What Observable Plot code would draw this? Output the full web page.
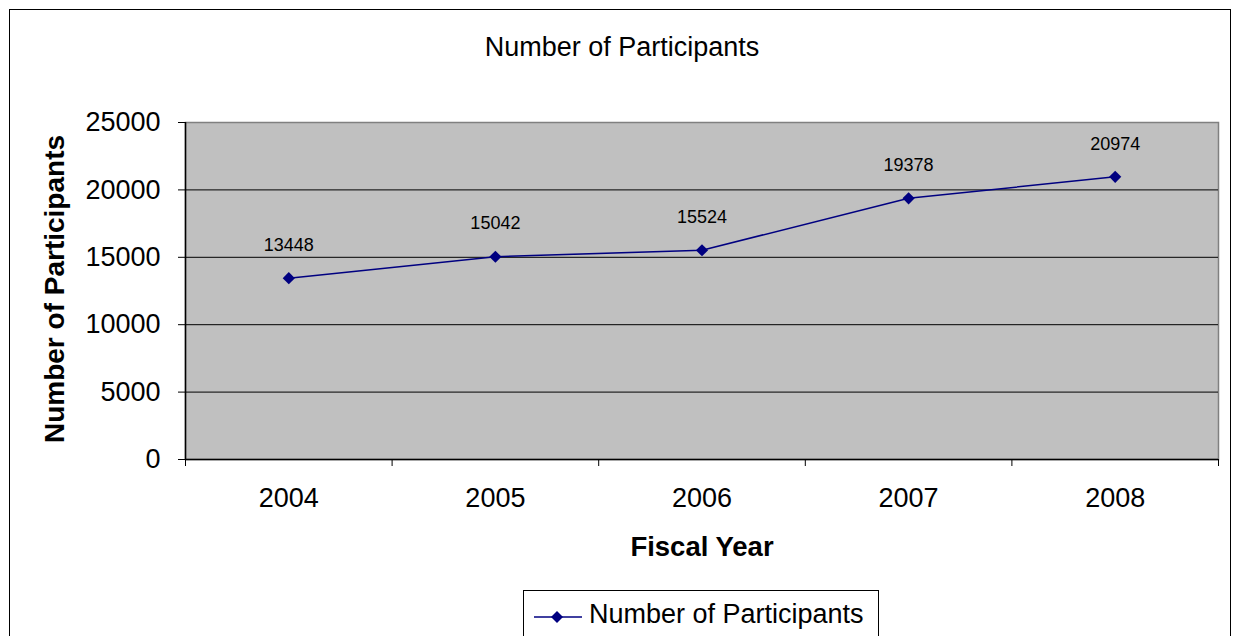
<!DOCTYPE html>
<html>
<head>
<meta charset="utf-8">
<script src="https://cdn.jsdelivr.net/npm/d3@7"></script>
<script src="https://cdn.jsdelivr.net/npm/@observablehq/plot@0.6"></script>
<style>
  html, body { margin: 0; padding: 0; background: #fff; }
  #wrap { position: relative; width: 1239px; height: 636px; overflow: hidden; font-family: "Liberation Sans", Arial, sans-serif; }
  #border { position: absolute; left: 9px; top: 9px; width: 1222px; height: 700px; border: 1.5px solid #000; box-sizing: border-box; }
  #title { position: absolute; left: 622px; top: 47px; transform: translate(-50%, -50%); font-size: 27px; color: #000; white-space: nowrap; }
  #ytitle { position: absolute; left: 55px; top: 289px; transform: translate(-50%, -50%) rotate(-90deg); font-size: 28px; font-weight: bold; white-space: nowrap; }
  #xtitle { position: absolute; left: 702px; top: 547px; transform: translate(-50%, -50%); font-size: 27.5px; font-weight: bold; white-space: nowrap; }
  #legend { position: absolute; left: 523px; top: 590px; width: 356px; height: 60px; border: 1.5px solid #000; box-sizing: border-box; }
  #legend svg { position: absolute; left: 8px; top: 12px; }
  #legend span { position: absolute; left: 65px; top: 8px; font-size: 27px; white-space: nowrap; }
  #chart { position: absolute; left: 0; top: 0; }
</style>
</head>
<body>
<div id="wrap">
  <div id="border"></div>
  <div id="chart"></div>
  <div id="title">Number of Participants</div>
  <div id="ytitle">Number of Participants</div>
  <div id="xtitle">Fiscal Year</div>
  <div id="legend">
    <svg width="52" height="28"><line x1="2" y1="14" x2="50" y2="14" stroke="#000080" stroke-width="1.5"></line><path d="M25,8 L31,14 L25,20 L19,14 Z" fill="#000080"></path></svg>
    <span>Number of Participants</span>
  </div>
</div>
<script>
const years = [2004, 2005, 2006, 2007, 2008];
const participants = [13448, 15042, 15524, 19378, 20974];
const yTicks = [0, 5000, 10000, 15000, 20000, 25000];
const gridValues = [5000, 10000, 15000, 20000];
const boundaries = [2003.5, 2004.5, 2005.5, 2006.5, 2007.5, 2008.5];

const data = years.map((y, i) => ({year: y, value: participants[i]}));
const navy = "#000080";

const chart = Plot.plot({
  width: 1239,
  height: 636,
  marginLeft: 185,
  marginRight: 21,
  marginTop: 122,
  marginBottom: 177,
  style: {fontFamily: "'Liberation Sans', Arial, sans-serif", background: "transparent", overflow: "visible"},
  x: {type: "linear", domain: [2003.5, 2008.5]},
  y: {domain: [0, 25000]},
  marks: [
    Plot.frame({fill: "#c0c0c0", stroke: "#808080", strokeWidth: 1.5}),
    Plot.ruleY(gridValues, {stroke: "#000", strokeWidth: 1}),
    Plot.axisY({ticks: yTicks, tickSize: 7, tickPadding: 18, tickFormat: d => String(d), fontSize: 27, label: null, stroke: "#000", fill: "#000"}),
    Plot.axisX({ticks: boundaries, tickSize: 7, tickFormat: () => "", label: null, stroke: "#000"}),
    Plot.axisX({ticks: years, tickSize: 0, tickPadding: 28, tickFormat: d => String(d), fontSize: 27, label: null, fill: "#000"}),
    Plot.ruleY([0], {stroke: "#000", strokeWidth: 1.5}),
    Plot.ruleX([2003.5], {stroke: "#000", strokeWidth: 1.5}),
    Plot.line(data, {x: "year", y: "value", stroke: navy, strokeWidth: 1.5}),
    Plot.dot(data, {x: "year", y: "value", symbol: "diamond2", r: 5.5, fill: navy, stroke: "none"}),
    Plot.text(data, {x: "year", y: "value", text: d => String(d.value), dy: -33, fontSize: 18, fill: "#000"})
  ]
});
document.getElementById("chart").appendChild(chart);
</script>
</body>
</html>
